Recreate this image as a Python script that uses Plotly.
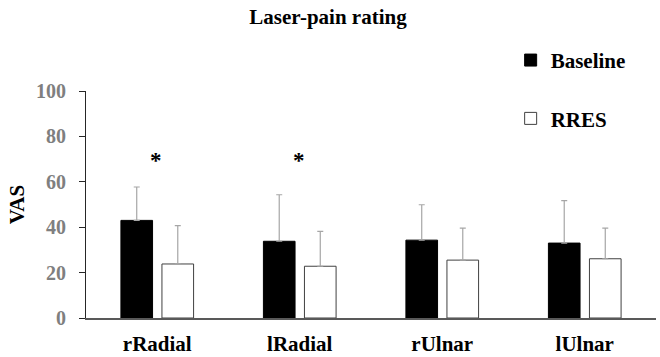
import plotly.graph_objects as go

categories = ["rRadial", "lRadial", "rUlnar", "lUlnar"]
baseline = [43.0, 33.8, 34.3, 33.0]
baseline_sd = [14.7, 20.5, 15.6, 18.7]
rres = [23.8, 22.8, 25.5, 26.1]
rres_sd = [16.9, 15.4, 14.1, 13.5]
significant = ["*", "*", "", ""]
star_y = [69.5, 69.5, 0, 0]

FONT = "Times New Roman, Liberation Serif, serif"

fig = go.Figure()
fig.add_trace(go.Bar(
    x=categories, y=baseline, name="Baseline",
    width=0.222, offset=-0.255,
    marker=dict(color="black", line=dict(color="black", width=1)),
    error_y=dict(type="data", array=baseline_sd, arrayminus=[0] * 4, symmetric=False,
                 color="#a6a6a6", thickness=1.2, width=3),
    legendgroup="a",
))
fig.add_trace(go.Bar(
    x=categories, y=rres, name="RRES",
    width=0.222, offset=0.033,
    marker=dict(color="white", line=dict(color="#404040", width=1)),
    error_y=dict(type="data", array=rres_sd, arrayminus=[0] * 4, symmetric=False,
                 color="#a6a6a6", thickness=1.2, width=3),
    legendgroup="b",
))

for c, s, yv in zip(categories, significant, star_y):
    if s:
        fig.add_annotation(x=c, y=yv, text=s, showarrow=False, xshift=-1,
                           font=dict(family=FONT, size=23, color="black", weight="bold"),
                           yanchor="middle")

fig.update_layout(
    width=660, height=357,
    margin=dict(l=86, r=4, t=91, b=39),
    paper_bgcolor="white", plot_bgcolor="white",
    barmode="overlay",
    showlegend=True,
    legend=dict(x=0.745, y=1.225, xanchor="left", yanchor="top",
                font=dict(family=FONT, size=21, color="black", weight="bold"),
                traceorder="grouped", tracegroupgap=28, bgcolor="rgba(0,0,0,0)",
                itemwidth=30),
    title=dict(text="Laser-pain rating", x=0.4246, xref="paper", xanchor="center",
               y=1 - 17 / 357, yref="container", yanchor="middle",
               font=dict(family=FONT, size=21, color="black", weight="bold")),
    font=dict(family=FONT),
)
fig.update_xaxes(
    type="category", range=[-0.5, 3.5], automargin=False,
    showline=True, linecolor="#595959", linewidth=1.5,
    ticks="", ticklabelstandoff=6,
    tickfont=dict(family=FONT, size=21, color="black", weight="bold"),
    showgrid=False, zeroline=False,
)
fig.update_yaxes(
    range=[0, 100], dtick=20, tick0=0, automargin=False,
    showline=True, linecolor="#262626", linewidth=1.2,
    ticks="outside", ticklen=6, tickcolor="#262626", tickwidth=1.2,
    ticklabelstandoff=9,
    tickfont=dict(family=FONT, size=20, color="#7f7f7f", weight="bold"),
    showgrid=False, zeroline=False,
    title=dict(text="VAS", standoff=5,
               font=dict(family=FONT, size=21, color="black", weight="bold")),
)

fig.write_html("out.html")
